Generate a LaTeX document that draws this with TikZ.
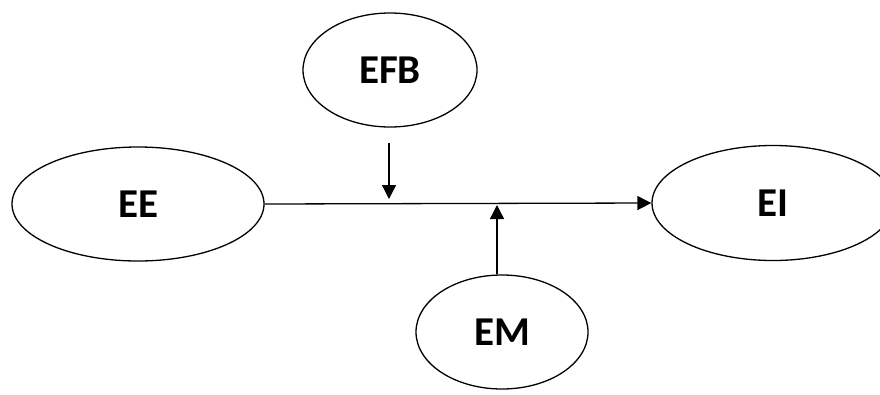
\documentclass[tikz,border=0pt]{standalone}
\usepackage{fontspec}
\setmainfont{Carlito}
\usetikzlibrary{shapes.geometric,arrows.meta}
\tikzset{
  oval/.style={ellipse,draw,line width=1.3pt,inner sep=0pt,font=\fontsize{41}{46}\selectfont\bfseries},
  conn/.style={line width=1.3pt},
  arr/.style={conn,-{Triangle[width=14pt,length=14pt]}}
}
\begin{document}
\begin{tikzpicture}[x=1pt,y=-1pt]
\useasboundingbox (0,0) rectangle (880,394);
\node[oval,minimum width=252pt,minimum height=114pt] (EE) at (138,204) {EE};
\node[oval,minimum width=242pt,minimum height=115pt] (EI) at (773,203) {EI};
\node[oval,minimum width=174pt,minimum height=114pt] (EFB) at (390,70) {EFB};
\node[oval,minimum width=172pt,minimum height=114pt] (EM) at (502,332) {EM};
\draw[arr] (EE.east) -- (EI.west);
\coordinate (fbstart) at (389,143);
\coordinate (fbend) at (389,199);
\draw[arr] (fbstart) -- (fbend);
\coordinate (mtip) at (497,205);
\draw[arr] (EM.north -| mtip) -- (mtip);
\end{tikzpicture}
\end{document}
